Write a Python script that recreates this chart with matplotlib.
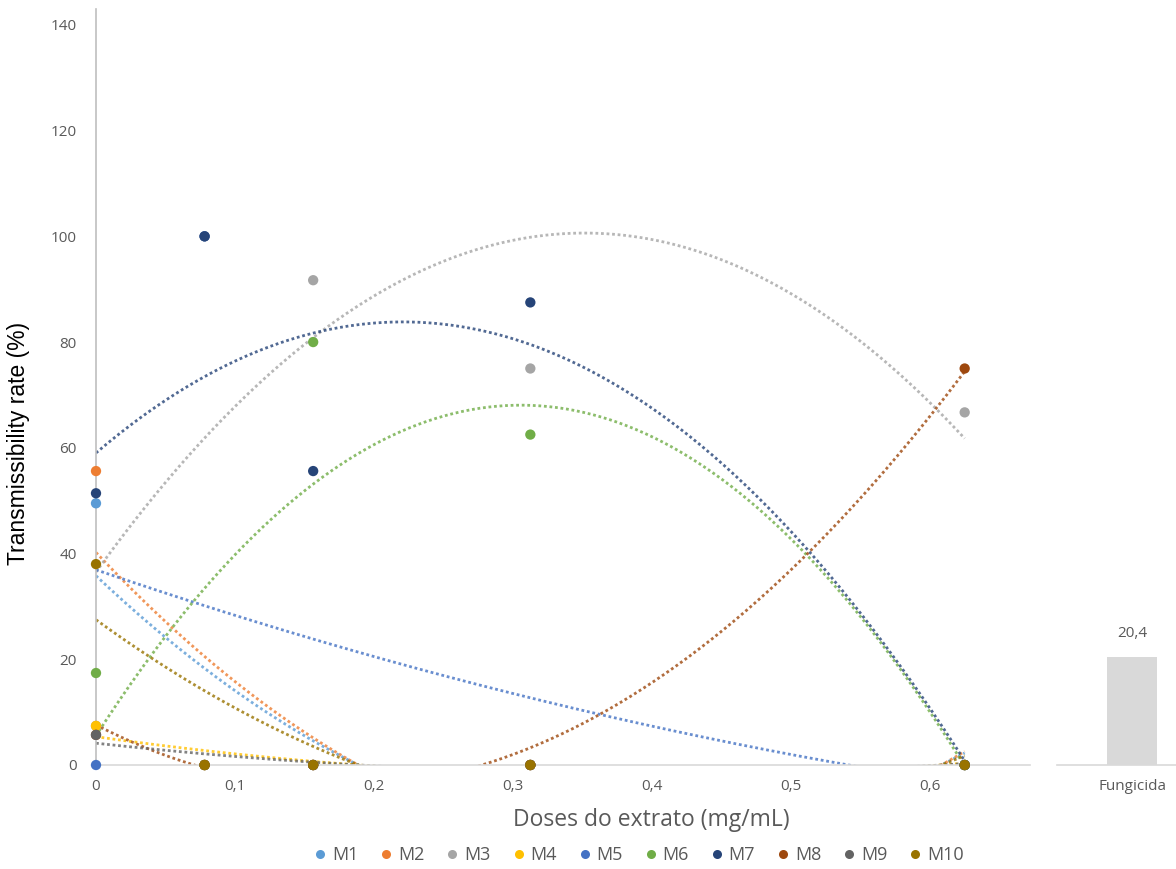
import matplotlib
matplotlib.use('Agg')

import matplotlib.pyplot as plt
from matplotlib.lines import Line2D
import numpy as np

# doses of the extract (mg/mL)
doses = [0, 0.078125, 0.15625, 0.3125, 0.625]

series_names = ["M1", "M2", "M3", "M4", "M5", "M6", "M7", "M8", "M9", "M10"]
m1 = [49.5, 0, 0, 0, 0]
m2 = [55.6, 0, 0, 0, 0]
m3 = [7.4, 100, 91.7, 75, 66.7]
m4 = [7.4, 0, 0, 0, 0]
m5 = [0, 100, 0, 0, 0]
m6 = [17.4, 0, 80, 62.5, 0]
m7 = [51.4, 100, 55.6, 87.5, 0]
m8 = [5.7, 0, 0, 0, 75]
m9 = [5.7, 0, 0, 0, 0]
m10 = [38, 0, 0, 0, 0]
series_values = [m1, m2, m3, m4, m5, m6, m7, m8, m9, m10]

colors = ["#5B9BD5", "#ED7D31", "#A5A5A5", "#FFC000", "#4472C4",
          "#70AD47", "#264478", "#9E480E", "#636363", "#997300"]

fungicide_label = ["Fungicida"]
fungicide_value = [20.4]

x_ticks = [0, 0.1, 0.2, 0.3, 0.4, 0.5, 0.6]
x_tick_labels = ["0", "0,1", "0,2", "0,3", "0,4", "0,5", "0,6"]
y_ticks = [0, 20, 40, 60, 80, 100, 120, 140]

W, H = 1176, 869
fig = plt.figure(figsize=(W / 100, H / 100), dpi=100)
plt.rcParams['font.family'] = ['Open Sans', 'DejaVu Sans']

grey_text = "#595959"
ax = fig.add_axes([96 / W, 1 - 765 / H, (1030 - 96) / W, (765 - 9) / H])
ax.set_xlim(0, 0.672)
ax.set_ylim(0, 143)

# polynomial (order 2) trendlines, computed from each series
x_fit = np.linspace(doses[0], doses[-1], 300)
for vals, col in zip(series_values, colors):
    coef = np.polyfit(doses, vals, 2)
    ax.plot(x_fit, np.polyval(coef, x_fit), color=col, linestyle=(0, (1, 1)),
            linewidth=2, alpha=0.8, zorder=2)

for name, vals, col in zip(series_names, series_values, colors):
    ax.scatter(doses, vals, s=55, color=col, zorder=3, clip_on=False,
               edgecolors='none')

ax.set_xticks(x_ticks)
ax.set_xticklabels(x_tick_labels)
ax.set_yticks(y_ticks)
ax.tick_params(length=0, labelsize=11, labelcolor=grey_text)
ax.tick_params(axis='y', pad=14)
ax.tick_params(axis='x', pad=10)
for s in ["top", "right"]:
    ax.spines[s].set_visible(False)
ax.spines["left"].set_color("#BFBFBF")
ax.spines["bottom"].set_color("#D9D9D9")
ax.spines["left"].set_linewidth(1.2)
ax.spines["bottom"].set_linewidth(1.2)

ax.set_xlabel("Doses do extrato (mg/mL)", fontsize=16.5, color=grey_text)
ax.xaxis.set_label_coords(0.595, -0.073)
ax.xaxis.label.set_va("center")
ax.set_ylabel("Transmissibility rate (%)", fontsize=16.5, color="black",
              family="Liberation Sans")
ax.yaxis.set_label_coords(-0.083, 0.426)
ax.yaxis.label.set_va("center")

# separate panel with the fungicide control
ax2 = fig.add_axes([1057 / W, 1 - 765 / H, (1176 - 1057) / W, (765 - 9) / H])
ax2.set_ylim(0, 143)
ax2.set_xlim(-0.612, 0.359)
bars = ax2.bar(fungicide_label, fungicide_value, width=0.4, color="#D9D9D9")
for b, v in zip(bars, fungicide_value):
    ax2.text(b.get_x() + b.get_width() / 2, v + 3, f"{v}".replace(".", ","),
             ha="center", va="bottom", fontsize=11, color=grey_text)
ax2.set_yticks([])
ax2.tick_params(length=0, labelsize=11, labelcolor=grey_text, pad=10)
for s in ["top", "right", "left"]:
    ax2.spines[s].set_visible(False)
ax2.spines["bottom"].set_color("#D9D9D9")
ax2.spines["bottom"].set_linewidth(1.2)

handles = [Line2D([], [], marker='o', linestyle='none', markersize=6.5,
                  markerfacecolor=c, markeredgecolor='none') for c in colors]
fig.legend(handles, series_names, loc="center", bbox_to_anchor=(0.542, 0.016),
           ncol=10, frameon=False, fontsize=13, handletextpad=0.15,
           columnspacing=1.05, labelcolor=grey_text, handlelength=1.0)

fig.savefig("out.png", dpi=100)
